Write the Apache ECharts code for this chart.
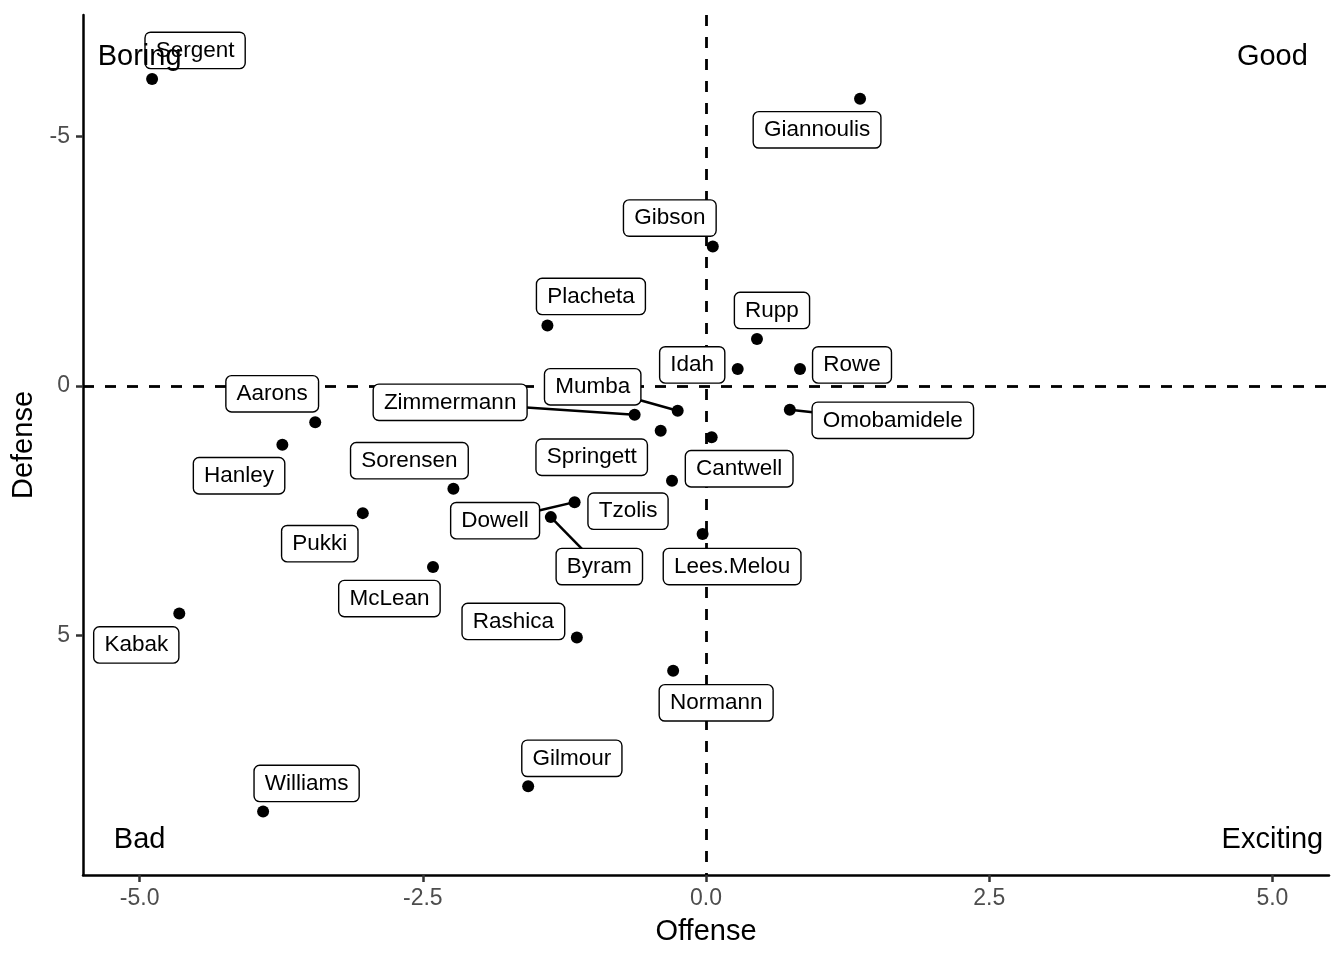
<!DOCTYPE html>
<html>
<head>
<meta charset="utf-8">
<script src="https://cdn.jsdelivr.net/npm/echarts@6/dist/echarts.min.js"></script>
<style>html,body{margin:0;padding:0;background:#fff}#chart{width:1344px;height:960px}</style>
</head>
<body>
<div id="chart"></div>
<script>
// ---- data ----
const players = ['Sergent','Giannoulis','Gibson','Placheta','Rupp','Idah','Rowe','Omobamidele','Mumba','Zimmermann','Springett','Cantwell','Tzolis','Dowell','Byram','Lees.Melou','Aarons','Hanley','Sorensen','Pukki','McLean','Kabak','Williams','Rashica','Normann','Gilmour'];
const offense = [-4.89, 1.36, 0.06, -1.40, 0.45, 0.28, 0.83, 0.74, -0.25, -0.63, -0.40, 0.05, -0.30, -1.16, -1.37, -0.03, -3.45, -3.74, -2.23, -3.03, -2.41, -4.65, -3.91, -1.14, -0.29, -1.57];
const defense = [-6.15, -5.75, -2.79, -1.21, -0.94, -0.34, -0.34, 0.48, 0.50, 0.58, 0.90, 1.03, 1.90, 2.33, 2.63, 2.97, 0.73, 1.18, 2.06, 2.55, 3.63, 4.56, 8.53, 5.04, 5.71, 8.02];
const xTicks = [-5, -2.5, 0, 2.5, 5];
const yTicks = [-5, 0, 5];
const quadrantText = ['Boring', 'Good', 'Bad', 'Exciting'];
const quadrantX = [-5, 5, -5, 5];
const quadrantY = [-6.58, -6.58, 9.09, 9.09];

// ---- layout (repelled label placement, pixel offsets of label centre from its point) ----
const labelNudge = [[43,-30],[-43,29.5],[-43,-30],[43.5,-30.5],[15,-30],[-45.5,-5.5],[52,-5.5],[103,9],[-85,-25.5],[-184.5,-14],[-69,25],[27.5,30],[-44,29],[-79.5,17],[48.5,48],[29.5,31],[-43,-30],[-43.3,29.5],[-44,-29.5],[-43,29],[-43.6,30],[-43,30],[43.5,-29.7],[-63.5,-17.5],[43,30.5],[43.7,-29.3]];
const withSegment = ['Zimmermann','Mumba','Omobamidele','Dowell','Byram'];
const NUDGE_Y_SHIFT = 1.5;

const FONT = '"Liberation Sans", Arial, Helvetica, sans-serif';
const LABEL_FS = 22.5, LABEL_LH = 23, PAD_V = 6, PAD_H = 10;
const measureCtx = document.createElement('canvas').getContext('2d');
measureCtx.font = LABEL_FS + 'px ' + FONT;
function boxSize(text) {
  return [measureCtx.measureText(text).width + 2 * PAD_H, LABEL_LH + 2 * PAD_V];
}

const chart = echarts.init(document.getElementById('chart'), null, {renderer: 'canvas'});

const segIdx = players.map((n, i) => i).filter(i => withSegment.includes(players[i]));

chart.setOption({
  animation: false,
  backgroundColor: '#ffffff',
  textStyle: {fontFamily: FONT},
  grid: {left: 83, right: 15, top: 15, bottom: 85, containLabel: false},
  xAxis: {
    type: 'value', min: -5.5, max: 5.5,
    name: 'Offense', nameLocation: 'middle', nameGap: 42,
    nameTextStyle: {fontSize: 29, color: '#000', fontFamily: FONT},
    axisLine: {show: true, onZero: false, lineStyle: {color: '#000', width: 2.5}},
    axisTick: {show: true, customValues: xTicks, length: 7, lineStyle: {color: '#333', width: 2.5}},
    axisLabel: {show: true, customValues: xTicks, margin: 12, fontSize: 23, color: '#4d4d4d', fontFamily: FONT,
      formatter: v => Number(v).toFixed(1)},
    splitLine: {show: false}
  },
  yAxis: {
    type: 'value', min: -7.43, max: 9.80, inverse: true,
    name: 'Defense', nameLocation: 'middle', nameGap: 40, nameRotate: 90,
    nameTextStyle: {fontSize: 29, color: '#000', fontFamily: FONT},
    axisLine: {show: true, onZero: false, lineStyle: {color: '#000', width: 2.5}},
    axisTick: {show: true, customValues: yTicks, length: 7, lineStyle: {color: '#333', width: 2.5}},
    axisLabel: {show: true, customValues: yTicks, margin: 13, fontSize: 23, color: '#4d4d4d', fontFamily: FONT,
      formatter: v => String(v)},
    splitLine: {show: false}
  },
  series: [
    {
      type: 'scatter', z: 1, silent: true, data: [],
      markLine: {
        silent: true, z: 1, symbol: 'none', animation: false,
        label: {show: false},
        emphasis: {disabled: true},
        lineStyle: {color: '#000', width: 2.8, type: [11, 11], opacity: 1},
        data: [{xAxis: 0}, {yAxis: 0}]
      }
    },
    {
      // leader segments from point to the edge of its repelled label box
      type: 'custom', z: 2, silent: true,
      data: segIdx.map(i => [offense[i], defense[i], i]),
      renderItem: (params, api) => {
        const i = api.value(2);
        const p = api.coord([api.value(0), api.value(1)]);
        const [w, h] = boxSize(players[i]);
        const cx = p[0] + labelNudge[i][0], cy = p[1] + labelNudge[i][1] + NUDGE_Y_SHIFT;
        const dx = p[0] - cx, dy = p[1] - cy;
        const t = Math.min(Math.abs(dx) > 0 ? (w / 2) / Math.abs(dx) : Infinity,
                           Math.abs(dy) > 0 ? (h / 2) / Math.abs(dy) : Infinity);
        const ex = cx + dx * t, ey = cy + dy * t;
        return {type: 'line', shape: {x1: p[0], y1: p[1], x2: ex, y2: ey},
                style: {stroke: '#000', lineWidth: 2.5}};
      }
    },
    {
      type: 'scatter', z: 3, silent: true, symbolSize: 12,
      itemStyle: {color: '#000', opacity: 1},
      emphasis: {disabled: true},
      data: players.map((n, i) => ({name: n, value: [offense[i], defense[i]]})),
      label: {
        show: true, position: 'inside', formatter: p => p.name,
        fontSize: LABEL_FS, lineHeight: LABEL_LH, color: '#000', opacity: 1, fontFamily: FONT,
        backgroundColor: '#fff', borderColor: '#000', borderWidth: 1.4, borderRadius: 5,
        padding: [PAD_V, PAD_H]
      },
      labelLayout: p => ({dx: labelNudge[p.dataIndex][0], dy: labelNudge[p.dataIndex][1] + NUDGE_Y_SHIFT})
    },
    {
      type: 'scatter', z: 4, silent: true, symbolSize: 1,
      itemStyle: {color: 'rgba(0,0,0,0)'},
      emphasis: {disabled: true},
      data: quadrantText.map((t, i) => ({name: t, value: [quadrantX[i], quadrantY[i]]})),
      label: {show: true, position: 'inside', formatter: p => p.name, fontSize: 29, color: '#000', opacity: 1, fontFamily: FONT}
    }
  ]
});
</script>
</body>
</html>
